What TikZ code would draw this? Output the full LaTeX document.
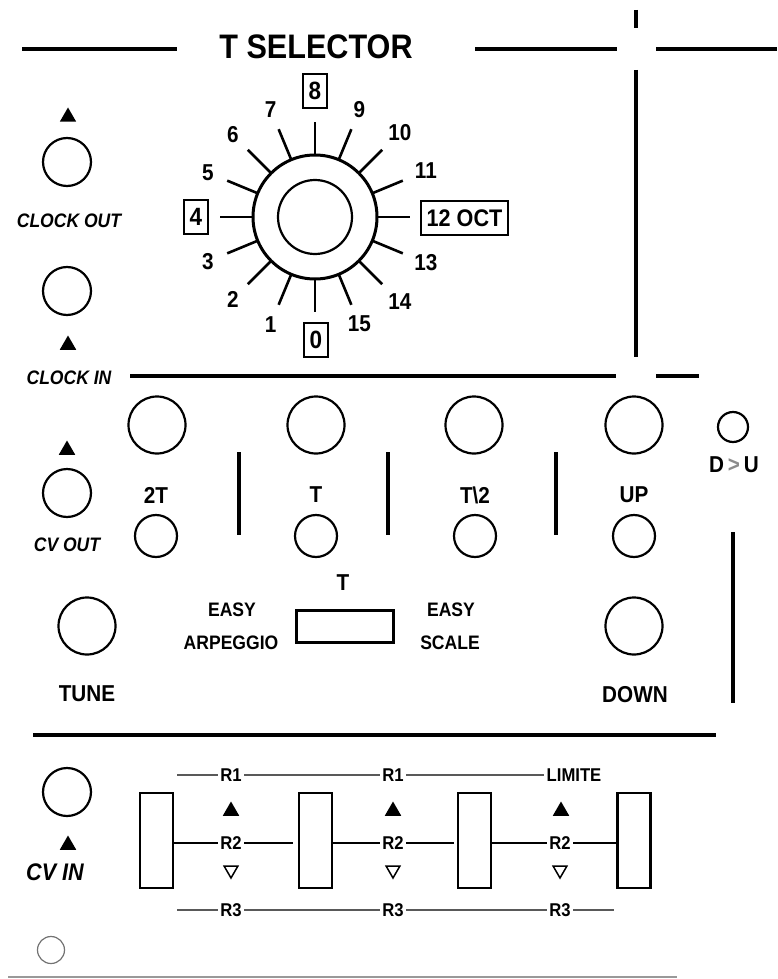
\documentclass[tikz,border=0pt]{standalone}
\usepackage{fontspec}
\setmainfont{Liberation Sans}[FakeStretch=0.9]
\usetikzlibrary{shapes.geometric,calc}
\newcommand\fsz[1]{\fontsize{#1}{#1}\selectfont\bfseries}
\begin{document}
\begin{tikzpicture}[x=1pt,y=-1pt,
  divider/.style={line width=3.2pt},
  thickdiv/.style={line width=4pt},
  jack/.style={circle,draw,line width=2.2pt,minimum size=48pt,inner sep=0pt},
  knob/.style={circle,draw,line width=2.2pt,minimum size=57pt,inner sep=0pt},
  led/.style={circle,draw,line width=2.2pt,minimum size=42pt,inner sep=0pt},
  tickln/.style={line width=2.6pt},
  dig/.style={font=\fsz{23},inner sep=0pt},
  boxd/.style={draw,line width=1.4pt,font=\fsz{25},inner sep=0pt,minimum width=24pt,minimum height=34pt},
  lbl/.style={font=\fsz{23},inner sep=0pt},
  small/.style={font=\fsz{19.5},inner sep=0pt},
  ital/.style={font=\fsz{19.5}\itshape,inner sep=0pt},
  rlbl/.style={font=\fsz{18.5},inner sep=2.5pt},
  rline/.style={line width=1.8pt,black!65},
  r2line/.style={line width=1.6pt},
  slider/.style={draw,line width=2.6pt,minimum width=33pt,minimum height=95pt,inner sep=0pt},
  uptri/.style={regular polygon,regular polygon sides=3,fill,inner sep=0pt,minimum size=19pt},
  dntri/.style={regular polygon,regular polygon sides=3,shape border rotate=180,draw,line width=1.5pt,inner sep=0pt,minimum size=16pt}]
\useasboundingbox (0,0) rectangle (777,979);
\fill[white] (0,0) rectangle (777,979);

% ---------- top section ----------
\node[font=\fsz{34},inner sep=0pt] (title) at (316,47) {T SELECTOR};
\draw[divider] (22,49) -- (177,49);
\draw[divider] (475,49) -- (617,49);
\draw[divider] (656,49) -- (777,49);
\draw[divider] (636,10) -- (636,28);
\draw[divider] (636,70) -- (636,357);
\draw[divider] (130,376) -- (616,376);
\draw[divider] (656,376) -- (699,376);

% left column
\node[uptri] (tri1) at (68,117) {};
\node[jack] (clkout) at (67,162) {};
\node[ital] (clkoutl) at (69,221) {CLOCK OUT};
\node[jack] (clkin) at (67,291) {};
\node[uptri] (tri2) at (68,345) {};
\node[ital] (clkinl) at (69,378) {CLOCK IN};

% dial
\node[circle,draw,line width=3pt,minimum size=124pt,inner sep=0pt] (dial) at (315,217) {};
\node[circle,draw,line width=2.2pt,minimum size=74pt,inner sep=0pt] (dialin) at (dial.center) {};
\foreach \k in {0,...,15}{
  \pgfmathsetmacro\a{270-22.5*\k}
  \draw[tickln] ([shift={(\a:62pt)}]dial.center) -- ([shift={(\a:95pt)}]dial.center);
}
\foreach \k in {1,2,3,5,6,7,9,15}{
  \pgfmathsetmacro\a{270-22.5*\k}
  \node[dig] (n\k) at ([shift={(\a:116pt)}]dial.center) {\k};
}
\foreach \k in {10,11,13,14}{
  \pgfmathsetmacro\a{270-22.5*\k}
  \node[dig] (n\k) at ([shift={(\a:120pt)}]dial.center) {\k};
}
\node[boxd] (n8) at (315,91) {8};
\node[boxd] (n4) at (196,217) {4};
\node[boxd] (n0) at (316,340) {0};
\node[boxd,font=\fsz{24},minimum width=87pt] (n12) at (464.5,218) {12 OCT};

% ---------- middle section ----------
\node[uptri] (tri3) at (67,450) {};
\node[jack] (cvout) at (67,493) {};
\node[ital] (cvoutl) at (67,545) {CV OUT};

\node[knob] (k2t) at (157,425) {};
\node[knob] (kt) at (316,425) {};
\node[knob] (kt2) at (474,425) {};
\node[knob] (kup) at (634,425) {};
\node[circle,draw,line width=2.2pt,minimum size=30pt,inner sep=0pt] (ldu) at (733,427) {};
\node[lbl] (du) at (734,465) {D\,{\color{black!45}>}\,U};

\draw[divider] (239,452) -- (239,535);
\draw[divider] (388,452) -- (388,535);
\draw[divider] (556,452) -- (556,535);
\draw[divider] (733,532) -- (733,703);

\node[lbl] (l2t) at (156,495) {2T};
\node[lbl] (lt) at (316,495) {T};
\node[lbl] (lt2) at (475,495) {T\textbackslash 2};
\node[lbl] (lup) at (634,495) {UP};

\node[led] (s2t) at (156,536) {};
\node[led] (st) at (316,536) {};
\node[led] (st2) at (475,536) {};
\node[led] (sup) at (634,536) {};

\node[lbl] (swt) at (343,583) {T};
\node[draw,line width=3pt,minimum width=97pt,minimum height=32pt,inner sep=0pt] (sw) at (344.5,626) {};
\node[small] (easy1) at (232,610) {EASY};
\node[small] (arp) at (231,643) {ARPEGGIO};
\node[small] (easy2) at (451,610) {EASY};
\node[small] (scale) at (450,643) {SCALE};

\node[knob] (tune) at (87,626) {};
\node[lbl] (tunel) at (87,694) {TUNE};
\node[knob] (down) at (634,626) {};
\node[lbl] (downl) at (635,695) {DOWN};

% ---------- bottom section ----------
\draw[thickdiv] (33,735) -- (716,735);

\node[jack] (cvin) at (67,792) {};
\node[uptri] (tri4) at (68,845) {};
\node[font=\fsz{24}\itshape,inner sep=0pt] (cvinl) at (55,872) {CV IN};
\node[circle,draw,black!55,line width=1.2pt,minimum size=27pt,inner sep=0pt] (dot) at (51,950) {};
\draw[line width=1.6pt,black!40] (8,977) -- (677,977);

\node[slider] (sl1) at (156.5,840.5) {};
\node[slider] (sl2) at (315.5,840.5) {};
\node[slider] (sl3) at (474.5,840.5) {};
\node[slider] (sl4) at (634,840.5) {};

\node[rlbl] (r1a) at (231,775) {R1};
\node[rlbl] (r1b) at (393,775) {R1};
\node[rlbl] (lim) at (574,775) {LIMITE};
\node[rlbl] (r2a) at (231,843) {R2};
\node[rlbl] (r2b) at (393,843) {R2};
\node[rlbl] (r2c) at (560,843) {R2};
\node[rlbl] (r3a) at (231,910) {R3};
\node[rlbl] (r3b) at (393,910) {R3};
\node[rlbl] (r3c) at (560,910) {R3};

\node[uptri] (ua) at (231,811) {};
\node[uptri] (ub) at (393,811) {};
\node[uptri] (uc) at (561,811) {};
\node[dntri] (da) at (231,870) {};
\node[dntri] (db) at (393,870) {};
\node[dntri] (dc) at (560,870) {};

\coordinate (r1s) at (177,775);
\coordinate (r3s) at (177,910);
\coordinate (r3e) at (614,910);
\coordinate (r2ea) at (293,843);
\coordinate (r2eb) at (454,843);

\draw[rline] (r1s) -- (r1a.west);
\draw[rline] (r1a.east) -- (r1b.west);
\draw[rline] (r1b.east) -- (lim.west);
\draw[rline] (r3s) -- (r3a.west);
\draw[rline] (r3a.east) -- (r3b.west);
\draw[rline] (r3b.east) -- (r3c.west);
\draw[rline] (r3c.east) -- (r3e);

\draw[r2line] (sl1.east |- r2a.west) -- (r2a.west);
\draw[r2line] (r2a.east) -- (r2ea);
\draw[r2line] (sl2.east |- r2b.west) -- (r2b.west);
\draw[r2line] (r2b.east) -- (r2eb);
\draw[r2line] (sl3.east |- r2c.west) -- (r2c.west);
\draw[r2line] (r2c.east) -- (sl4.west |- r2c.east);
\end{tikzpicture}
\end{document}
